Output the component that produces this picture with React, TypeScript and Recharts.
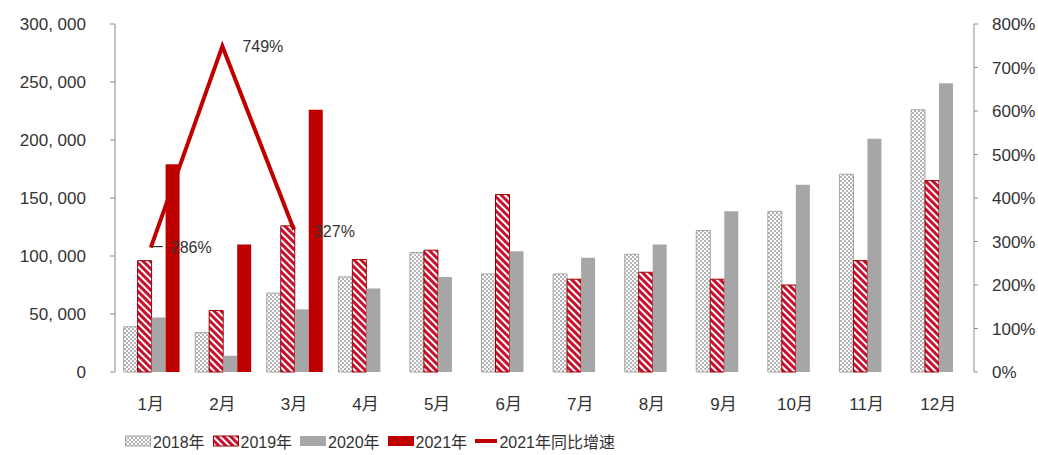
import React from "react";
import {
  ComposedChart,
  Bar,
  Line,
  XAxis,
  YAxis,
  Legend,
  LabelList,
} from "recharts";

// Monthly volumes by year, plus 2021 year-over-year growth (%)
const months = ["1月", "2月", "3月", "4月", "5月", "6月", "7月", "8月", "9月", "10月", "11月", "12月"];
const sales2018 = [39000, 34000, 68000, 82000, 103000, 84500, 84500, 101500, 122000, 138500, 170500, 226000];
const sales2019 = [96000, 53000, 126000, 97000, 105000, 153000, 80000, 86000, 80000, 75000, 96000, 165000];
const sales2020 = [47000, 14000, 54000, 72000, 82000, 104000, 98500, 110000, 138500, 161500, 201000, 249000];
const sales2021: (number | null)[] = [179000, 110000, 226000, null, null, null, null, null, null, null, null, null];
const growth2021: (number | null)[] = [286, 749, 327, null, null, null, null, null, null, null, null, null];

const leftTicks = [0, 50000, 100000, 150000, 200000, 250000, 300000];
const rightTicks = [0, 100, 200, 300, 400, 500, 600, 700, 800];
const boundaryTicks = [0, 1, 2, 3, 4, 5, 6, 7, 8, 9, 10, 11, 12];

const data = months.map((m, i) => ({
  month: m,
  y2018: sales2018[i],
  y2019: sales2019[i],
  y2020: sales2020[i],
  y2021: sales2021[i],
  growth: growth2021[i],
}));

const FONT = '"Liberation Sans", Arial, "Noto Sans CJK SC", sans-serif';
const TEXT = "#333333";
const AXIS = "#8c8c8c";
const RED = "#c00000";
const GREY = "#a6a6a6";

const fmtThousands = (v: number) => v.toLocaleString("en-US").replace(/,/g, ", ");

const GrowthLabel = (props: any) => {
  const { x, y, value, index } = props;
  if (value == null) return null;
  return (
    <g>
      {index === 0 && (
        <line x1={x + 1} y1={y - 1} x2={x + 12} y2={y - 1} stroke="#333" strokeWidth={1.2} />
      )}
      <text
        x={x + 20}
        y={index === 2 ? y + 2 : y}
        dominantBaseline="central"
        fontSize={16}
        fill={TEXT}
        fontFamily={FONT}
      >
        {value}%
      </text>
    </g>
  );
};

const legendItems = [
  { label: "2018年", kind: "checker" },
  { label: "2019年", kind: "stripe" },
  { label: "2020年", kind: "grey" },
  { label: "2021年", kind: "red" },
  { label: "2021年同比增速", kind: "line" },
];

const LegendIcon = ({ kind }: { kind: string }) => (
  <svg width={26} height={12} style={{ display: "block" }}>
    {kind === "checker" && <rect x={0.5} y={1} width={25} height={10} fill="url(#checker)" stroke={GREY} />}
    {kind === "stripe" && <rect x={0.5} y={1} width={25} height={10} fill="url(#stripes)" stroke="#a00000" />}
    {kind === "grey" && <rect x={0} y={1} width={26} height={10} fill={GREY} />}
    {kind === "red" && <rect x={0} y={1} width={26} height={10} fill={RED} />}
    {kind === "line" && <line x1={0} y1={6} x2={26} y2={6} stroke={RED} strokeWidth={4} />}
  </svg>
);

const LegendContent = () => (
  <div
    style={{
      display: "flex",
      alignItems: "center",
      height: 26,
      paddingLeft: 125,
      fontFamily: FONT,
      fontSize: 16,
      color: TEXT,
    }}
  >
    {legendItems.map((it) => (
      <div
        key={it.label}
        style={{ display: "flex", alignItems: "center", width: it.kind === "line" ? 140 : 87.5 }}
      >
        <LegendIcon kind={it.kind} />
        <span style={{ marginLeft: 2, whiteSpace: "nowrap" }}>{it.label}</span>
      </div>
    ))}
  </div>
);

export default function App() {
  return (
    <div style={{ position: "absolute", left: 0, top: 0, background: "#fff" }}>
      <ComposedChart
        width={1038}
        height={455}
        data={data}
        margin={{ top: 24, right: 0, bottom: 17, left: 0 }}
        barCategoryGap="12%"
        barGap={0}
      >
        <defs>
          <pattern id="checker" patternUnits="userSpaceOnUse" width={4} height={4}>
            <rect width={4} height={4} fill="#ffffff" />
            <rect x={0} y={0} width={2} height={2} fill="#b4b4b4" />
            <rect x={2} y={2} width={2} height={2} fill="#b4b4b4" />
          </pattern>
          <pattern id="stripes" patternUnits="userSpaceOnUse" width={5} height={5} patternTransform="rotate(-45)">
            <rect width={5} height={5} fill="#ffffff" />
            <rect x={0} y={0} width={3} height={5} fill="#c8102e" />
          </pattern>
        </defs>

        <XAxis
          xAxisId="bounds"
          type="number"
          domain={[0, 12]}
          allowDataOverflow
          ticks={boundaryTicks}
          tick={false}
          tickSize={5}
          height={0}
          axisLine={{ stroke: AXIS }}
          tickLine={{ stroke: AXIS }}
        />
        <XAxis
          dataKey="month"
          height={40}
          axisLine={false}
          tickLine={false}
          tickMargin={20}
          interval={0}
          tick={{ fontSize: 17, fill: TEXT, fontFamily: FONT }}
        />
        <YAxis
          yAxisId="left"
          width={115}
          domain={[0, 300000]}
          ticks={leftTicks}
          tickFormatter={fmtThousands}
          tickSize={5}
          tickMargin={24}
          axisLine={{ stroke: AXIS }}
          tickLine={{ stroke: AXIS }}
          tick={{ fontSize: 17, fill: TEXT, fontFamily: FONT }}
        />
        <YAxis
          yAxisId="right"
          orientation="right"
          width={64}
          domain={[0, 800]}
          ticks={rightTicks}
          tickFormatter={(v: number) => `${v}%`}
          tickSize={4}
          tickMargin={14}
          axisLine={{ stroke: AXIS }}
          tickLine={{ stroke: AXIS }}
          tick={{ fontSize: 17, fill: TEXT, fontFamily: FONT, textAnchor: "start" }}
        />

        <Bar yAxisId="left" dataKey="y2018" name="2018年" fill="url(#checker)" stroke={GREY} strokeWidth={1} isAnimationActive={false} />
        <Bar yAxisId="left" dataKey="y2019" name="2019年" fill="url(#stripes)" stroke="#a00000" strokeWidth={1} isAnimationActive={false} />
        <Bar yAxisId="left" dataKey="y2020" name="2020年" fill={GREY} isAnimationActive={false} />
        <Bar yAxisId="left" dataKey="y2021" name="2021年" fill={RED} isAnimationActive={false} />
        <Line
          yAxisId="right"
          dataKey="growth"
          name="2021年同比增速"
          stroke={RED}
          strokeWidth={4}
          dot={false}
          activeDot={false}
          isAnimationActive={false}
        >
          <LabelList dataKey="growth" content={GrowthLabel} />
        </Line>

        <Legend verticalAlign="bottom" content={LegendContent} wrapperStyle={{ bottom: 1, left: 0, width: 1038 }} />
      </ComposedChart>
    </div>
  );
}
